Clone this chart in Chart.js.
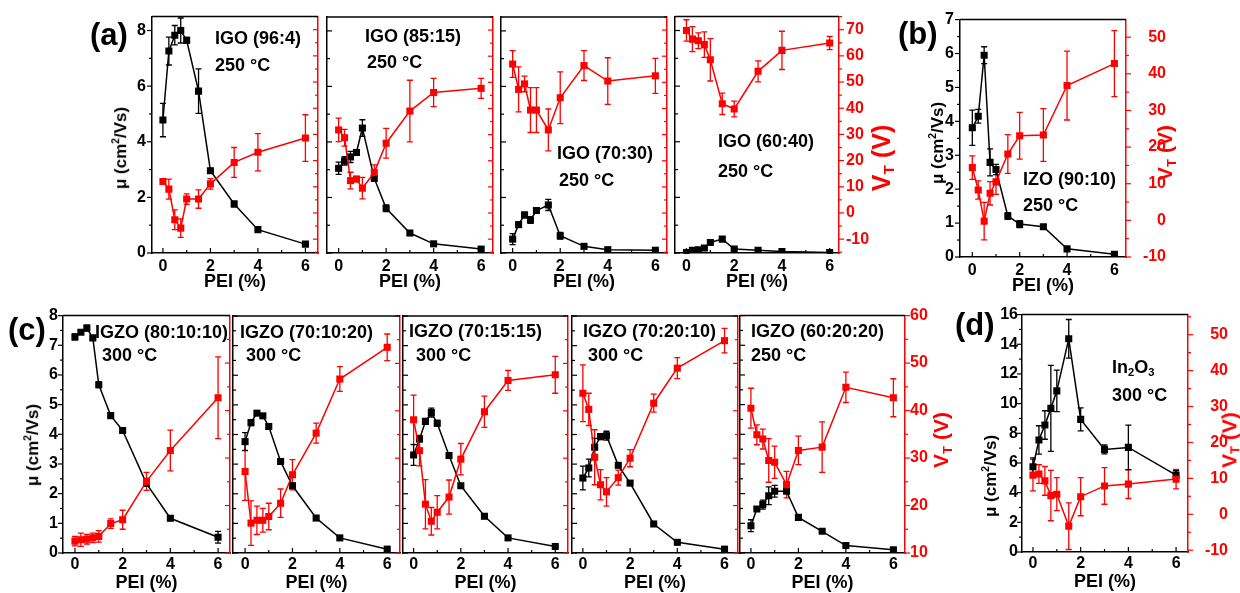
<!DOCTYPE html>
<html>
<head>
<meta charset="utf-8">
<script src="https://cdn.jsdelivr.net/npm/chart.js@4.4.0/dist/chart.umd.min.js"></script>
<style>
  body { margin: 0; width: 1240px; height: 593px; overflow: hidden; position: relative; background: #fff;
         font-family: 'Liberation Sans', Arial, sans-serif; }
  canvas.c { position: absolute; }
  .t { position: absolute; white-space: nowrap; font-weight: bold; line-height: 1; color: #000; z-index: 5; }
  .t sub { font-size: 0.62em; vertical-align: -0.25em; }
</style>
</head>
<body>
<script>
// PEI content (%) shared by every panel
const pei = [0, 0.25, 0.5, 0.75, 1, 1.5, 2, 3, 4, 6];

// (a) IGO 96:4
const a1Mu = [4.78, 7.26, 7.83, 8.0, 7.65, 5.82, 2.96, 1.76, 0.84, 0.32];
const a1MuErr = [0.6, 0.5, 0.35, 0.45, 0.1, 0.8, 0.08, 0.1, 0.06, 0.06];
const a1Vt = [12.0, 9.1, -2.6, -5.8, 5.3, 5.3, 11.1, 19.3, 23.2, 28.6];
const a1VtErr = [1, 3.8, 3.8, 3.5, 2, 3.5, 2, 5.7, 7.1, 8.9];
// (a) IGO 85:15
const a2Mu = [3.05, 3.32, 3.46, 3.62, 4.5, 2.69, 1.61, 0.72, 0.33, 0.14];
const a2MuErr = [0.22, 0.15, 0.2, 0.1, 0.3, 0.1, 0.12, 0.05, 0.05, 0.05];
const a2Vt = [31.8, 28.8, 12.4, 13.0, 9.5, 15.5, 26.7, 39.0, 46.1, 47.7];
const a2VtErr = [4.5, 3.2, 3.2, 1, 4.1, 2.9, 5.7, 11.8, 5.4, 3.8];
// (a) IGO 70:30
const a3Mu = [0.5, 1.02, 1.37, 1.19, 1.53, 1.73, 0.62, 0.24, 0.12, 0.1];
const a3MuErr = [0.2, 0.1, 0.1, 0.12, 0.1, 0.2, 0.12, 0.05, 0.04, 0.04];
const a3Vt = [57.0, 47.3, 49.4, 39.4, 39.4, 31.8, 44.1, 56.4, 50.5, 52.5];
const a3VtErr = [5.1, 8.6, 3, 8.6, 8.6, 8, 9.9, 5.7, 8.9, 6.7];
// (a) IGO 60:40
const a4Mu = [0.02, 0.1, 0.12, 0.18, 0.38, 0.5, 0.14, 0.1, 0.05, 0.02];
const a4MuErr = [0.03, 0.03, 0.03, 0.04, 0.05, 0.05, 0.03, 0.03, 0.03, 0.03];
const a4Vt = [69.7, 66.4, 65.8, 64.3, 58.5, 41.7, 39.7, 54.1, 62.1, 64.9];
const a4VtErr = [4.1, 4.8, 3, 4.9, 8.1, 4.1, 3, 4, 7.3, 2.5];
// (b) IZO 90:10
const bMu = [3.81, 4.15, 5.95, 2.79, 2.58, 1.21, 0.97, 0.89, 0.24, 0.08];
const bMuErr = [0.52, 0.2, 0.25, 0.4, 0.15, 0.1, 0.1, 0.06, 0.04, 0.03];
const bVt = [14.4, 8.3, -0.2, 7.4, 10.5, 18.1, 23.1, 23.3, 36.8, 42.8];
const bVtErr = [3.2, 2.5, 5.1, 3.2, 3.4, 5.3, 6.4, 7.2, 9.4, 9];
// (c) IGZO 80:10:10
const c1Mu = [7.28, 7.44, 7.58, 7.25, 5.67, 4.63, 4.13, 2.34, 1.17, 0.53];
const c1MuErr = [0.1, 0.06, 0.1, 0.05, 0.1, 0.05, 0.05, 0.05, 0.08, 0.2];
const c1Vt = [12.5, 12.8, 12.9, 13.2, 13.5, 16.2, 17.0, 25.1, 31.6, 42.7];
const c1VtErr = [1, 1.4, 1, 1, 1.2, 1, 2, 1.9, 4.3, 8.6];
// (c) IGZO 70:10:20
const c2Mu = [3.76, 4.4, 4.72, 4.63, 4.27, 3.09, 2.27, 1.18, 0.51, 0.13];
const c2MuErr = [0.3, 0.1, 0.05, 0.05, 0.05, 0.05, 0.08, 0.03, 0.03, 0.03];
const c2Vt = [27.2, 16.3, 16.9, 16.9, 17.7, 20.5, 26.5, 35.3, 46.7, 53.4];
const c2VtErr = [6.1, 4.7, 3, 2.5, 2.8, 3, 3.2, 2.1, 2.6, 2.8];
// (c) IGZO 70:15:15
const c3Mu = [3.31, 3.85, 4.44, 4.74, 4.38, 3.29, 2.27, 1.24, 0.51, 0.22];
const c3MuErr = [0.35, 0.1, 0.1, 0.15, 0.1, 0.08, 0.05, 0.03, 0.03, 0.03];
const c3Vt = [38.1, 31.6, 20.3, 16.7, 18.6, 21.8, 29.8, 39.8, 46.4, 47.6];
const c3VtErr = [5.2, 3.2, 5.2, 2.9, 3.5, 3.6, 3.3, 3.3, 2.1, 3.9];
// (c) IGZO 70:20:10
const c4Mu = [2.53, 2.87, 3.57, 3.93, 3.96, 2.96, 2.36, 0.98, 0.36, 0.13];
const c4MuErr = [0.4, 0.3, 0.3, 0.1, 0.15, 0.05, 0.05, 0.03, 0.03, 0.03];
const c4Vt = [43.7, 40.3, 30.2, 24.4, 22.9, 25.9, 30.0, 41.6, 49.0, 54.8];
const c4VtErr = [6, 3.4, 5.8, 3.2, 3, 1.6, 1.8, 1.9, 2.2, 2.6];
// (c) IGZO 60:20:20
const c5Mu = [0.92, 1.48, 1.63, 1.93, 2.08, 2.08, 1.2, 0.73, 0.25, 0.11];
const c5MuErr = [0.2, 0.05, 0.15, 0.3, 0.2, 0.05, 0.05, 0.05, 0.03, 0.03];
const c5Vt = [40.5, 34.9, 34.0, 29.5, 29.1, 24.4, 31.6, 32.3, 44.9, 42.7];
const c5VtErr = [4.2, 2.1, 2.1, 4.6, 3.4, 2.8, 3, 5.3, 3.2, 4.0];
// (d) In2O3
const dMu = [5.74, 7.55, 8.56, 9.68, 10.86, 14.37, 8.94, 6.91, 7.05, 5.18];
const dMuErr = [0.6, 0.96, 0.96, 2.9, 1.4, 1.3, 0.77, 0.3, 1.5, 0.3];
const dVt = [10.9, 11.2, 9.3, 5.2, 5.6, -3.3, 4.9, 7.9, 8.4, 9.8];
const dVtErr = [4.4, 2.6, 4, 7, 4.6, 6.5, 5.3, 5.1, 4, 2.7];

const RED = '#ff0000';
const FONT = "'Liberation Sans', Arial, sans-serif";
Chart.defaults.font.family = FONT;

const pts = (vals) => pei.map((x, i) => ({ x, y: vals[i] }));

// vertical error bars with caps, drawn under the square markers
const errorBars = {
  id: 'errorBars',
  beforeDatasetsDraw(chart) {
    const ctx = chart.ctx;
    chart.data.datasets.forEach((ds, i) => {
      if (!ds.err) return;
      const meta = chart.getDatasetMeta(i);
      const ys = chart.scales[ds.yAxisID];
      ctx.save();
      ctx.strokeStyle = ds.borderColor;
      ctx.lineWidth = 1.3;
      meta.data.forEach((pt, j) => {
        const v = ds.data[j].y;
        const e = ds.err[j];
        const y1 = ys.getPixelForValue(v + e);
        const y2 = ys.getPixelForValue(v - e);
        ctx.beginPath();
        ctx.moveTo(pt.x, y1); ctx.lineTo(pt.x, y2);
        ctx.moveTo(pt.x - 3, y1); ctx.lineTo(pt.x + 3, y1);
        ctx.moveTo(pt.x - 3, y2); ctx.lineTo(pt.x + 3, y2);
        ctx.stroke();
      });
      ctx.restore();
    });
  },
};

// short major/minor tick marks on the frame, plus the top frame line
const axisMarks = {
  id: 'axisMarks',
  afterDraw(chart, args, opts) {
    const ctx = chart.ctx;
    const ca = chart.chartArea;
    ctx.save();
    ctx.lineWidth = 1.2;
    ['x', 'y', 'y2'].forEach((id) => {
      const m = opts[id];
      const s = chart.scales[id];
      if (!m || !s) return;
      ctx.strokeStyle = m.color;
      const k0 = Math.ceil(s.min / m.minor - 1e-6);
      const k1 = Math.floor(s.max / m.minor + 1e-6);
      for (let k = k0; k <= k1; k++) {
        const v = k * m.minor;
        const r = v / m.major;
        const len = Math.abs(r - Math.round(r)) < 1e-6 ? 5 : 3;
        const p = s.getPixelForValue(v);
        ctx.beginPath();
        if (id === 'x') {
          ctx.moveTo(p, ca.bottom); ctx.lineTo(p, ca.bottom - len);
        } else {
          const x0 = id === 'y' ? ca.left : ca.right;
          const dir = (id === 'y' ? 1 : -1) * (m.out ? -1 : 1);
          ctx.moveTo(x0, p); ctx.lineTo(x0 + dir * len, p);
        }
        ctx.stroke();
      }
    });
    ctx.strokeStyle = '#000';
    ctx.lineWidth = 1.5;
    ctx.beginPath();
    ctx.moveTo(ca.left, ca.top); ctx.lineTo(ca.right, ca.top);
    ctx.stroke();
    ctx.restore();
  },
};

const tickFont = { family: FONT, size: 16, weight: 'bold' };

function buildConfig(p) {
  const L = p.left, R = p.right;
  return {
    type: 'line',
    data: {
      datasets: [{
        data: pts(p.vt), err: p.vtErr, yAxisID: 'y2',
        borderColor: RED, backgroundColor: RED, borderWidth: 1.5,
        pointStyle: 'rect', pointRadius: 5, pointBorderWidth: 0, pointBackgroundColor: RED,
      }, {
        data: pts(p.mu), err: p.muErr, yAxisID: 'y',
        borderColor: '#000', backgroundColor: '#000', borderWidth: 1.5,
        pointStyle: 'rect', pointRadius: 5, pointBorderWidth: 0, pointBackgroundColor: '#000',
      }],
    },
    options: {
      responsive: false,
      animation: false,
      events: [],
      layout: { padding: 0 },
      plugins: {
        legend: { display: false },
        tooltip: { enabled: false },
        axisMarks: {
          x: { minor: 1, major: 2, color: '#000' },
          y: { minor: L.minor, major: L.step, color: '#000', out: L.labels },
          y2: { minor: R.minor, major: R.step, color: RED, out: R.labels },
        },
      },
      scales: {
        x: {
          type: 'linear', position: 'bottom', min: p.x[0], max: p.x[1],
          ticks: { stepSize: 2, includeBounds: false, font: tickFont, color: '#000', padding: p.xPad, maxRotation: 0, autoSkip: false },
          grid: { display: false, drawTicks: false },
          border: { display: true, color: '#000', width: 1.5 },
          title: { display: true, text: 'PEI (%)', color: '#000', padding: 0, font: { family: FONT, size: 18, weight: 'bold' } },
          afterFit: (s) => { s.height = p.xH; },
        },
        y: {
          type: 'linear', position: 'left', min: L.min, max: L.max,
          ticks: { stepSize: L.step, includeBounds: false, display: L.labels, font: tickFont, color: '#000', padding: L.pad || 6 },
          grid: { display: false, drawTicks: false },
          border: { display: true, color: '#000', width: 1.5 },
          afterFit: (s) => { s.width = L.labels ? 40 : 0; },
        },
        y2: {
          type: 'linear', position: 'right', min: R.min, max: R.max,
          ticks: { stepSize: R.step, includeBounds: false, display: R.labels, font: tickFont, color: RED, padding: R.pad || 6, crossAlign: R.align || 'near' },
          grid: { display: false, drawTicks: false },
          border: { display: true, color: RED, width: 1.5 },
          afterFit: (s) => { s.width = R.labels ? 40 : 0; },
        },
      },
    },
    plugins: [errorBars, axisMarks],
  };
}

function build(p, w, h) {
  const cv = document.createElement('canvas');
  cv.className = 'c';
  cv.width = w;
  cv.height = h;
  document.body.appendChild(cv);
  const chart = new Chart(cv, buildConfig(p));
  return { cv, chart };
}

// make the plot frame land on p.frame = [left, top, right, bottom]
function placePanel(p) {
  let { cv, chart } = build(p, 400, 400);
  const ca = chart.chartArea;
  const ml = ca.left, mt = ca.top, mr = 400 - ca.right, mb = 400 - ca.bottom;
  chart.destroy();
  cv.remove();
  const [l, t, r, b] = p.frame;
  ({ cv, chart } = build(p, Math.round(r - l + ml + mr), Math.round(b - t + mt + mb)));
  cv.style.left = Math.round(l - chart.chartArea.left) + 'px';
  cv.style.top = Math.round(t - chart.chartArea.top) + 'px';
}

const aLeft = { min: 0, max: 8.5, step: 2, minor: 1 };
const aRight = { min: -15.3, max: 75, step: 10, minor: 5 };
const cLeft = { min: 0, max: 8, step: 1, minor: 0.5 };
const cRight = { min: 10, max: 60, step: 10, minor: 5 };

const panels = [
  { frame: [152, 17, 318, 253], x: [-0.46, 6.53], mu: a1Mu, muErr: a1MuErr, vt: a1Vt, vtErr: a1VtErr,
    left: { ...aLeft, labels: true, pad: 6 }, right: { ...aRight, labels: false }, xH: 40, xPad: 4 },
  { frame: [327, 17, 493, 253], x: [-0.49, 6.5], mu: a2Mu, muErr: a2MuErr, vt: a2Vt, vtErr: a2VtErr,
    left: { ...aLeft, labels: false }, right: { ...aRight, labels: false }, xH: 40, xPad: 4 },
  { frame: [501, 17, 667, 253], x: [-0.49, 6.49], mu: a3Mu, muErr: a3MuErr, vt: a3Vt, vtErr: a3VtErr,
    left: { ...aLeft, labels: false }, right: { ...aRight, labels: false }, xH: 40, xPad: 4 },
  { frame: [675, 17, 839, 253], x: [-0.48, 6.39], mu: a4Mu, muErr: a4MuErr, vt: a4Vt, vtErr: a4VtErr,
    left: { ...aLeft, labels: false }, right: { ...aRight, labels: true, pad: 7 }, xH: 40, xPad: 4 },
  { frame: [960, 20, 1126, 257], x: [-0.52, 6.49], mu: bMu, muErr: bMuErr, vt: bVt, vtErr: bVtErr,
    left: { min: 0, max: 7, step: 1, minor: 0.5, labels: true, pad: 6 },
    right: { min: -10, max: 54.8, step: 10, minor: 5, labels: true, pad: 1, align: 'far' }, xH: 40, xPad: 4 },
  { frame: [63, 316, 230, 553], x: [-0.5, 6.5], mu: c1Mu, muErr: c1MuErr, vt: c1Vt, vtErr: c1VtErr,
    left: { ...cLeft, labels: true, pad: 5 }, right: { ...cRight, labels: false }, xH: 41, xPad: 2 },
  { frame: [233, 316, 400, 553], x: [-0.51, 6.54], mu: c2Mu, muErr: c2MuErr, vt: c2Vt, vtErr: c2VtErr,
    left: { ...cLeft, labels: false }, right: { ...cRight, labels: false }, xH: 41, xPad: 2 },
  { frame: [403, 316, 568, 553], x: [-0.45, 6.54], mu: c3Mu, muErr: c3MuErr, vt: c3Vt, vtErr: c3VtErr,
    left: { ...cLeft, labels: false }, right: { ...cRight, labels: false }, xH: 41, xPad: 2 },
  { frame: [572, 316, 738, 553], x: [-0.46, 6.57], mu: c4Mu, muErr: c4MuErr, vt: c4Vt, vtErr: c4VtErr,
    left: { ...cLeft, labels: false }, right: { ...cRight, labels: false }, xH: 41, xPad: 2 },
  { frame: [740, 316, 905, 553], x: [-0.46, 6.49], mu: c5Mu, muErr: c5MuErr, vt: c5Vt, vtErr: c5VtErr,
    left: { ...cLeft, labels: false }, right: { ...cRight, labels: true, pad: 5 }, xH: 41, xPad: 2 },
  { frame: [1022, 315, 1188, 552], x: [-0.46, 6.5], mu: dMu, muErr: dMuErr, vt: dVt, vtErr: dVtErr,
    left: { min: 0, max: 16, step: 2, minor: 1, labels: true, pad: 4 },
    right: { min: -10.5, max: 55.6, step: 10, minor: 5, labels: true, pad: 1, align: 'far' }, xH: 41, xPad: 2 },
];

panels.forEach(placePanel);

// text: [html, x, y, size, color, rotated]; rotated ones are centred on (x, y)
const MU = '&mu; (cm<sup style="font-size:0.6em">2</sup>/Vs)';
const VT = 'V<sub>T</sub> (V)';
const texts = [
  ['(a)', 90, 34, 31], ['(b)', 898, 33, 31], ['(c)', 8, 329, 31], ['(d)', 955, 324, 31],
  ['IGO (96:4)', 215, 38, 18], ['250 &deg;C', 215, 65, 18],
  ['IGO (85:15)', 365, 36, 18], ['250 &deg;C', 367, 62, 18],
  ['IGO (70:30)', 557, 153, 18], ['250 &deg;C', 559, 180, 18],
  ['IGO (60:40)', 718, 141, 18], ['250 &deg;C', 718, 171, 18],
  ['IZO (90:10)', 1023, 179, 18], ['250 &deg;C', 1023, 205, 18],
  ['IGZO (80:10:10)', 95, 332, 18], ['300 &deg;C', 102, 355, 18],
  ['IGZO (70:10:20)', 240, 332, 18], ['300 &deg;C', 246, 355, 18],
  ['IGZO (70:15:15)', 409, 331, 18], ['300 &deg;C', 416, 355, 18],
  ['IGZO (70:20:10)', 583, 331, 18], ['300 &deg;C', 588, 355, 18],
  ['IGZO (60:20:20)', 751, 331, 18], ['250 &deg;C', 751, 355, 18],
  ['In<sub>2</sub>O<sub>3</sub>', 1112, 368, 18], ['300 &deg;C', 1112, 395, 18],
  [MU, 120, 148, 17, '#000', true], [MU, 937, 143, 17, '#000', true],
  [MU, 32, 445, 17, '#000', true], [MU, 990, 476, 17, '#000', true],
  [VT, 883, 158, 25, RED, true], [VT, 1166, 153, 21, RED, true],
  [VT, 942, 440, 21, RED, true], [VT, 1230, 440, 21, RED, true],
];

texts.forEach(([html, x, y, size, color, rot]) => {
  const el = document.createElement('div');
  el.className = 't';
  el.innerHTML = html;
  el.style.left = x + 'px';
  el.style.top = y + 'px';
  el.style.fontSize = size + 'px';
  el.style.color = color || '#000';
  el.style.transform = rot ? 'translate(-50%, -50%) rotate(-90deg)' : 'translateY(-50%)';
  document.body.appendChild(el);
});
</script>
</body>
</html>
